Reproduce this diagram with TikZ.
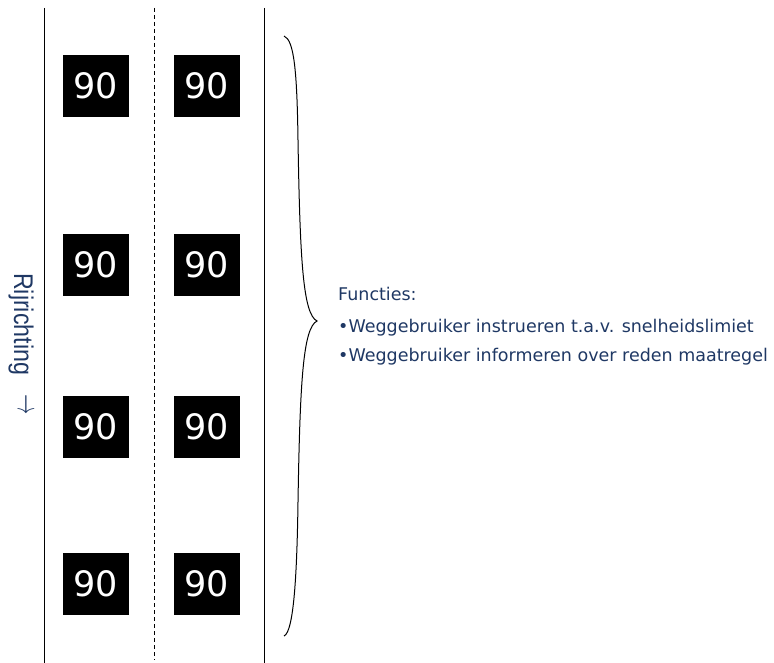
\documentclass[tikz,border=0pt]{standalone}
\usepackage{graphicx}
\usepackage{fontspec}
\setmainfont{DejaVu Sans}
\newfontfamily\arialfont{Liberation Sans}
\definecolor{txtblue}{HTML}{1F3864}
\tikzset{
  sign/.style={fill=black, text=white, minimum width=66pt, minimum height=62pt, inner sep=0pt, font=\fontsize{35}{40}\selectfont},
  road/.style={line width=1pt},
  info/.style={anchor=base west, inner sep=0pt, text=txtblue, font=\fontsize{17.5}{20}\selectfont}
}
\begin{document}
\begin{tikzpicture}[x=1pt,y=-1pt]
\useasboundingbox (0,0) rectangle (774,663);
\coordinate (l1) at (44,8); \coordinate (l2) at (44,663);
\coordinate (m1) at (154,8); \coordinate (m2) at (154,660);
\coordinate (r1) at (264,8); \coordinate (r2) at (264,663);
\draw[road] (l1) -- (l2);
\draw[line width=0.8pt, dash pattern=on 4pt off 3pt] (m1) -- (m2);
\draw[road] (r1) -- (r2);
\foreach \y [count=\i] in {86,265,427,584} {
  \node[sign] (a\i) at (96,\y) {90};
  \node[sign] (b\i) at (207,\y) {90};
}
\node[rotate=-90, xscale=0.86, text=txtblue, font=\arialfont\fontsize{27}{30}\selectfont, inner sep=0pt, anchor=base west] (dir) at (14,273) {Rijrichting\hspace{0.85em}\raisebox{4pt}{\scalebox{0.95}[1.3]{\(\rightarrow\)}}};
\draw[line width=1pt] (284,36) .. controls (294,40) and (297,70) .. (298,140)
  .. controls (300,260) and (303,314) .. (317,321)
  .. controls (303,328) and (300,382) .. (298,502)
  .. controls (297,572) and (294,632) .. (284,636);
\node[info] (t1) at (338,300) {Functies:};
\node[info] (t2) at (338,332) {•Weggebruiker instrueren t.a.v. snelheidslimiet};
\node[info] (t3) at (338,361) {•Weggebruiker informeren over reden maatregel};
\end{tikzpicture}
\end{document}
